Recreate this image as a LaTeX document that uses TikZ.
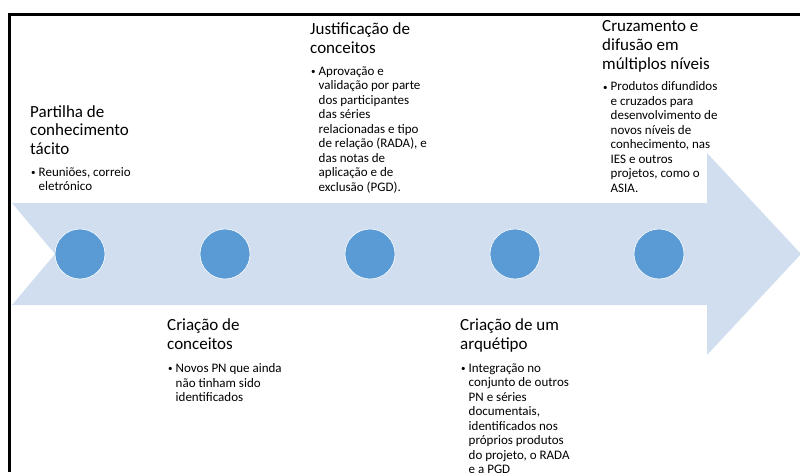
\documentclass[tikz,border=0pt]{standalone}
\usepackage{fontspec}
\setmainfont{Carlito}
\usepackage{tikz}
\usetikzlibrary{positioning}
\definecolor{tlBand}{RGB}{208,222,239}
\definecolor{tlDot}{RGB}{91,155,213}
\newcommand{\tlbullet}{\makebox[8.5pt][l]{\hspace{1pt}\raisebox{0.8pt}{\fontsize{9}{9}\selectfont\textbullet}}}
\newcommand{\tlindent}{\hspace*{8.5pt}}
\tikzset{
    base/.style={anchor=north west, inner sep=0pt, align=left, text=black,
                 execute at begin node=\strut, execute at end node=\strut},
    heading/.style={base, font=\fontsize{17}{18.7}\selectfont},
    detail/.style={base, font=\fontsize{13}{14.5}\selectfont},
    milestone/.style={circle, fill=tlDot, draw=white, line width=0.6pt,
                      minimum size=50pt, inner sep=0pt},
    frame/.style={line width=2.5pt, black}
}

\begin{document}
\begin{tikzpicture}[x=1pt, y=-1pt]
  \useasboundingbox (0,0) rectangle (800,472);

  % frame edges
  \draw[frame] (9.5,472) -- (9.5,14.5) -- (800,14.5);

  % notched band with arrow head
  \fill[tlBand] (12,203) -- (707,203) -- (707,153) -- (801,254) -- (707,355)
    -- (707,305) -- (12,305) -- (55,254) -- cycle;

  % milestones on the band
  \node[milestone] (c1) at (80,254) {};
  \node[milestone] (c2) at (225,254) {};
  \node[milestone] (c3) at (370,254) {};
  \node[milestone] (c4) at (515,254) {};
  \node[milestone] (c5) at (659,254) {};

  % upper texts
  \node[heading] (t1) at (30,105) {Partilha de\\conhecimento\\tácito};
  \node[detail, below right=7pt and 0pt of t1.south west] (d1)
    {\tlbullet Reuniões, correio\\\tlindent eletrónico};

  \node[heading] (t3) at (310,22.4) {Justificação de\\conceitos};
  \node[detail, below right=7.5pt and 0pt of t3.south west] (d3)
    {\tlbullet Aprovação e\\\tlindent validação por parte\\\tlindent dos participantes\\\tlindent das séries\\\tlindent relacionadas e tipo\\\tlindent de relação (RADA), e\\\tlindent das notas de\\\tlindent aplicação e de\\\tlindent exclusão (PGD).};

  \node[heading] (t5) at (602,20.7) {Cruzamento e\\difusão em\\múltiplos níveis};
  \node[detail, below right=6.5pt and 0pt of t5.south west] (d5)
    {\tlbullet Produtos difundidos\\\tlindent e cruzados para\\\tlindent desenvolvimento de\\\tlindent novos níveis de\\\tlindent conhecimento, nas\\\tlindent IES e outros\\\tlindent projetos, como o\\\tlindent ASIA.};

  % lower texts
  \node[heading] (t2) at (167,318.4) {Criação de\\conceitos};
  \node[detail, below right=8.5pt and 0pt of t2.south west] (d2)
    {\tlbullet Novos PN que ainda\\\tlindent não tinham sido\\\tlindent identificados};

  \node[heading] (t4) at (460,318.4) {Criação de um\\arquétipo};
  \node[detail, below right=8.5pt and 0pt of t4.south west] (d4)
    {\tlbullet Integração no\\\tlindent conjunto de outros\\\tlindent PN e séries\\\tlindent documentais,\\\tlindent identificados nos\\\tlindent próprios produtos\\\tlindent do projeto, o RADA\\\tlindent e a PGD};
\end{tikzpicture}
\end{document}
